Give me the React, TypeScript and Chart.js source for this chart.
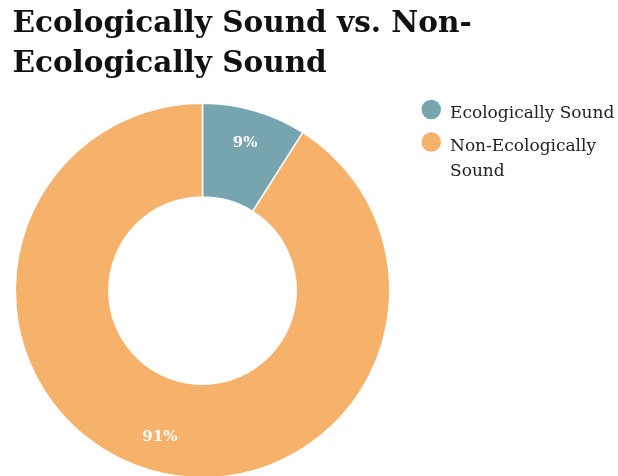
import React, { useEffect, useRef } from "react";
import { Chart, registerables, layouts } from "chart.js";

Chart.register(...registerables);

// ---- data ----
const categories = ["Ecologically Sound", "Non-Ecologically Sound"];
const shares = [9, 91];
const sliceColors = ["#76A5AF", "#F6B26B"];
const legendLines = [["Ecologically Sound"], ["Non-Ecologically", "Sound"]];
const titleLines = ["Ecologically Sound vs. Non-", "Ecologically Sound"];

const SERIF = '"DejaVu Serif", "Liberation Serif", serif';

// legend drawn in its own layout box on the right side
const sideLegendPlugin = {
  id: "sideLegend",
  beforeInit(chart: any) {
    const box: any = {
      position: "right",
      weight: 1000,
      fullSize: false,
      options: {},
      left: 0,
      top: 0,
      right: 0,
      bottom: 0,
      width: 0,
      height: 0,
      isHorizontal: () => false,
      update(maxWidth: number, maxHeight: number) {
        this.width = 225.5;
        this.height = maxHeight;
        return { width: this.width, height: this.height };
      },
      draw() {
        const ctx = chart.ctx;
        const r = 9.75;
        const cx = box.left + 29 + r;
        let cy = box.top + 7;
        ctx.save();
        ctx.font = `17px ${SERIF}`;
        ctx.textAlign = "left";
        ctx.textBaseline = "alphabetic";
        legendLines.forEach((lines, i) => {
          ctx.fillStyle = sliceColors[i];
          ctx.beginPath();
          ctx.arc(cx, cy, r, 0, Math.PI * 2);
          ctx.fill();
          ctx.fillStyle = "#222222";
          lines.forEach((t, j) => ctx.fillText(t, cx + r + 9, cy + 8.5 + j * 25.5));
          cy += 32.5 + (lines.length - 1) * 25.5;
        });
        ctx.restore();
      },
    };
    chart.$sideLegend = box;
    layouts.addBox(chart, box);
  },
  afterDestroy(chart: any) {
    if (chart.$sideLegend) layouts.removeBox(chart, chart.$sideLegend);
  },
};

// percentage labels inside the slices
const sliceLabelPlugin = {
  id: "sliceLabels",
  afterDatasetsDraw(chart: any) {
    const { ctx } = chart;
    const meta = chart.getDatasetMeta(0);
    const values = chart.data.datasets[0].data as number[];
    ctx.save();
    ctx.font = `bold 15px ${SERIF}`;
    ctx.fillStyle = "#ffffff";
    ctx.textAlign = "center";
    ctx.textBaseline = "middle";
    meta.data.forEach((arc: any, i: number) => {
      const p = arc.getProps(["x", "y", "startAngle", "endAngle", "innerRadius", "outerRadius"], true);
      const mid = (p.startAngle + p.endAngle) / 2;
      const rr = p.innerRadius + 0.634 * (p.outerRadius - p.innerRadius);
      ctx.fillText(`${values[i]}%`, p.x + Math.cos(mid) * rr, p.y + Math.sin(mid) * rr);
    });
    ctx.restore();
  },
};

export default function App() {
  const ref = useRef<HTMLCanvasElement | null>(null);
  useEffect(() => {
    if (!ref.current) return;
    const chart = new Chart(ref.current, {
      type: "doughnut",
      data: {
        labels: categories,
        datasets: [
          {
            data: shares,
            backgroundColor: sliceColors,
            borderColor: "#ffffff",
            borderWidth: 1.5,
            hoverOffset: 0,
          },
        ],
      },
      options: {
        responsive: false,
        animation: false,
        events: [],
        cutout: "50%",
        layout: { padding: { left: 12.5, right: 0, top: 0, bottom: 1.5 } },
        plugins: {
          legend: { display: false },
          tooltip: { enabled: false },
          title: {
            display: true,
            text: titleLines,
            align: "start",
            color: "#111111",
            font: { family: SERIF, size: 29.5, weight: "bold", lineHeight: 40 / 29.5 },
            padding: { top: 4, bottom: 18.5 },
          },
        },
      },
      plugins: [sideLegendPlugin, sliceLabelPlugin],
    });
    return () => chart.destroy();
  }, []);
  return (
    <div style={{ position: "absolute", left: 0, top: 0, width: 618, height: 476, overflow: "hidden", background: "#fff" }}>
      <canvas ref={ref} width={618} height={480} style={{ display: "block" }} />
    </div>
  );
}
